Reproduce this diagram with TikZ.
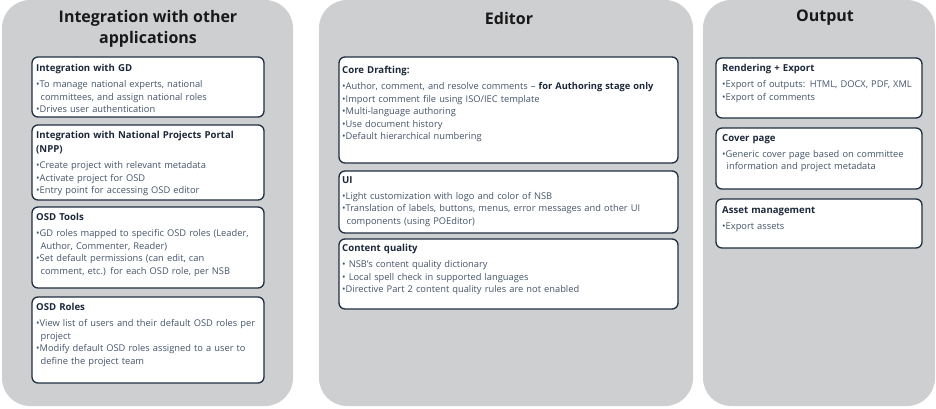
\documentclass[tikz,border=0pt]{standalone}
\usepackage{fontspec}
\setmainfont{Open Sans}
\definecolor{panelgray}{RGB}{206,207,209}
\definecolor{cardline}{RGB}{31,45,64}
\definecolor{headtext}{RGB}{28,40,58}
\definecolor{bodytext}{RGB}{68,84,106}
\newcommand{\hd}[1]{{\fontsize{9.6}{14}\bfseries\color{headtext}#1\par}\vspace{4pt}}
\newcommand{\bul}[1]{\hangindent=4.5pt\hangafter=1\textbullet#1\par}
\begin{document}
\begin{tikzpicture}[x=1pt,y=-1pt,
    panel/.style={fill=panelgray, rounded corners=28pt},
    card/.style={draw=cardline, fill=white, line width=1.3pt, rounded corners=6pt},
    cardtext/.style={anchor=north west, inner sep=0pt, align=left, text width=#1,
        font=\fontsize{9.3}{12.4}\selectfont, text=bodytext},
    title/.style={font=\fontsize{16}{20.5}\bfseries\selectfont, text=black!90, align=center}]
    \useasboundingbox (0,0) rectangle (936,408);

    % columns
    \fill[panel] (2,0) rectangle (293,406);
    \fill[panel] (319,0) rectangle (693,406);
    \fill[panel] (703,0) rectangle (935,406);

    \node[title] (integ) at (148,29) {Integration with other\\applications};
    \node[title] (editor) at (509,18) {Editor};
    \node[title] (output) at (825,18) {Output};

    % left column
    \draw[card] (32,57) rectangle (264,117);
    \node[cardtext=226pt] (gd) at (36,64) {\hd{Integration with GD}
        \bul{To manage national experts, national\newline committees, and assign national roles}
        \bul{Drives user authentication}};

    \draw[card] (32,125) rectangle (264,200);
    \node[cardtext=226pt] (npp) at (36,131) {\hd{Integration with National Projects Portal\\(NPP)}
        \bul{Create project with relevant metadata}
        \bul{Activate project for OSD}
        \bul{Entry point for accessing OSD editor}};

    \draw[card] (32,207) rectangle (264,288);
    \node[cardtext=226pt] (tools) at (36,213) {\hd{OSD Tools}
        \bul{GD roles mapped to specific OSD roles (Leader,\newline Author, Commenter, Reader)}
        \bul{Set default permissions (can edit, can\newline comment, etc.) for each OSD role, per NSB}};

    \draw[card] (32,297) rectangle (264,383);
    \node[cardtext=226pt] (roles) at (36,303) {\hd{OSD Roles}
        \bul{View list of users and their default OSD roles per\newline project}
        \bul{Modify default OSD roles assigned to a user to\newline define the project team}};

    % middle column
    \draw[card] (339,57) rectangle (678,163);
    \node[cardtext=332pt] (core) at (342,66) {\hd{Core Drafting:}
        \bul{Author, comment, and resolve comments -- {\bfseries\color{headtext}for Authoring stage only}}
        \bul{Import comment file using ISO/IEC template}
        \bul{Multi-language authoring}
        \bul{Use document history}
        \bul{Default hierarchical numbering}};

    \draw[card] (339,171) rectangle (678,233);
    \node[cardtext=332pt] (ui) at (342,176) {\hd{UI}
        \bul{Light customization with logo and color of NSB}
        \bul{Translation of labels, buttons, menus, error messages and other UI\newline components (using POEditor)}};

    \draw[card] (339,239) rectangle (678,309);
    \node[cardtext=332pt] (quality) at (342,244) {\hd{Content quality}
        \bul{ NSB's content quality dictionary}
        \bul{ Local spell check in supported languages}
        \bul{Directive Part 2 content quality rules are not enabled}};

    % right column
    \draw[card] (716,58) rectangle (922,118);
    \node[cardtext=200pt] (render) at (722,64) {\hd{Rendering + Export}
        \bul{Export of outputs: HTML, DOCX, PDF, XML}
        \bul{Export of comments}};

    \draw[card] (716,128) rectangle (922,189);
    \node[cardtext=200pt] (cover) at (722,134) {\hd{Cover page}
        \bul{Generic cover page based on committee\newline information and project metadata}};

    \draw[card] (716,199) rectangle (922,248);
    \node[cardtext=200pt] (asset) at (722,206) {\hd{Asset management}
        \bul{Export assets}};
\end{tikzpicture}
\end{document}
